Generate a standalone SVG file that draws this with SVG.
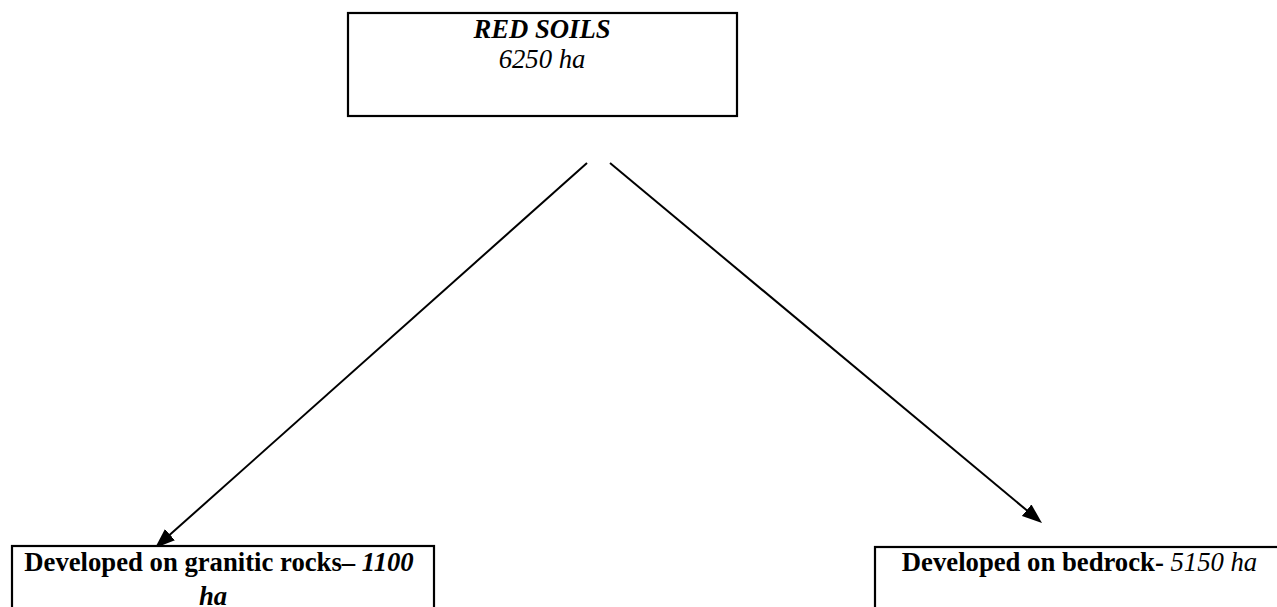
<svg xmlns="http://www.w3.org/2000/svg" width="1277" height="607" viewBox="0 0 1277 607">
  <style>
    .box { fill: #ffffff; stroke: #000000; stroke-width: 2.2; }
    .t { font-family: 'Liberation Serif', 'Times New Roman', Times, serif; font-size: 26.7px; fill: #000000; text-anchor: middle; }
    .b { font-weight: bold; }
    .i { font-style: italic; }
    .conn { stroke: #000000; stroke-width: 2; fill: none; marker-end: url(#arrow); }
  </style>
  <defs>
    <marker id="arrow" markerUnits="userSpaceOnUse" viewBox="0 0 20 15" refX="10" refY="7.5" markerWidth="20" markerHeight="15" orient="auto">
      <path d="M0,0 L20,7.5 L0,15 z" fill="#000000"/>
    </marker>
  </defs>
  <rect width="1277" height="607" fill="#ffffff"/>
  <g id="connectors">
    <path class="conn" d="M587,163 L162.5,541.3"/>
    <path class="conn" d="M610,163 L1034.3,516.6"/>
  </g>
  <g id="red-soils">
    <rect class="box" x="348" y="13" width="389" height="103"/>
    <text class="t b i" x="542" y="38">RED SOILS</text>
    <text class="t i" x="542" y="68">6250 ha</text>
  </g>
  <g id="granitic">
    <rect class="box" x="12" y="546" width="422" height="80"/>
    <text class="t b" x="219" y="571">Developed on granitic rocks– <tspan class="i">1100</tspan></text>
    <text class="t b i" x="213" y="605">ha</text>
  </g>
  <g id="bedrock">
    <rect class="box" x="875" y="547" width="410" height="80"/>
    <text class="t" x="1079.5" y="571"><tspan class="b">Developed on bedrock-</tspan> <tspan class="i">5150 ha</tspan></text>
  </g>
</svg>
